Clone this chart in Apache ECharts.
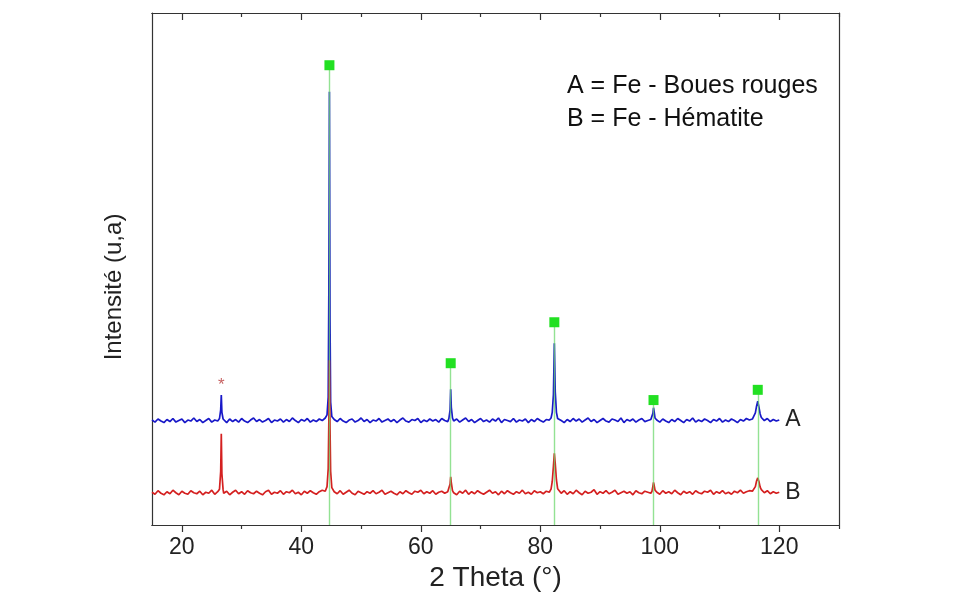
<!DOCTYPE html>
<html>
<head>
<meta charset="utf-8">
<script src="https://cdn.jsdelivr.net/npm/echarts@6/dist/echarts.min.js"></script>
<style>
html,body{margin:0;padding:0;background:#fff;}
#chart{width:959px;height:614px;}
</style>
</head>
<body>
<div id="chart"></div>
<script>
// 2-theta sampling positions (degrees)
const theta = [
  15,15.5,16,16.5,17,17.5,18,18.5,19,19.5,20,20.5,21,21.5,22,22.5,23,23.5,24,24.5,25,25.5,26,
  26.3,26.5,26.6,26.7,26.9,
  27,27.5,28,28.5,29,29.5,30,30.5,31,31.5,32,32.5,33,33.5,34,34.5,35,35.5,36,36.5,37,37.5,38,38.5,39,39.5,40,40.5,41,41.5,42,42.5,43,43.5,44,
  44.3,44.5,44.6,44.7,44.8,44.9,45.1,
  45.5,46,46.5,47,47.5,48,48.5,49,49.5,50,50.5,51,51.5,52,52.5,53,53.5,54,54.5,55,55.5,56,56.5,57,57.5,58,58.5,59,59.5,60,60.5,61,61.5,62,62.5,63,63.5,64,64.5,
  64.7,64.9,65.0,65.1,65.3,
  65.5,66,66.5,67,67.5,68,68.5,69,69.5,70,70.5,71,71.5,72,72.5,73,73.5,74,74.5,75,75.5,76,76.5,77,77.5,78,78.5,79,79.5,80,80.5,81,81.5,
  81.8,82.0,82.2,82.35,82.5,82.7,82.9,
  83.5,84,84.5,85,85.5,86,86.5,87,87.5,88,88.5,89,89.5,90,90.5,91,91.5,92,92.5,93,93.5,94,94.5,95,95.5,96,96.5,97,97.5,98,98.5,
  98.7,98.85,98.95,99.05,99.2,
  99.5,100,100.5,101,101.5,102,102.5,103,103.5,104,104.5,105,105.5,106,106.5,107,107.5,108,108.5,109,109.5,110,110.5,111,111.5,112,112.5,113,113.5,114,114.5,115,115.5,
  115.8,116.0,116.2,116.4,116.6,116.8,117.0,
  117.5,118,118.5,119,119.5,120
];

// A = Fe - Boues rouges (offset pattern, arbitrary units)
const intensityA = [
  20.5,20.1,20.7,20.3,20.0,20.6,20.2,20.8,20.1,20.4,20.7,20.0,20.5,20.3,20.9,20.2,20.6,20.0,20.4,20.8,20.1,20.5,20.3,
  20.8,22.5,25.4,22.0,20.7,
  20.4,20.0,20.7,20.2,20.6,20.1,20.8,20.3,20.0,20.5,20.9,20.2,20.6,20.1,20.4,20.8,20.0,20.5,20.3,20.7,20.1,20.6,20.2,20.9,20.4,20.0,20.6,20.3,20.8,20.1,20.5,20.2,20.7,20.4,20.9,
  21.5,25.0,45.0,84.6,40.0,24.0,21.2,
  20.6,20.2,20.8,20.3,20.0,20.5,20.7,20.1,20.4,20.9,20.2,20.6,20.0,20.5,20.3,20.8,20.1,20.4,20.7,20.2,20.6,20.0,20.5,20.9,20.3,20.1,20.6,20.4,20.8,20.0,20.5,20.2,20.7,20.3,20.6,20.1,20.8,20.4,20.2,
  20.8,22.5,26.5,23.0,20.9,
  20.3,20.7,20.1,20.5,20.9,20.2,20.6,20.0,20.4,20.8,20.2,20.5,20.1,20.7,20.3,20.9,20.0,20.6,20.4,20.2,20.8,20.1,20.5,20.3,20.7,20.0,20.6,20.2,20.8,20.4,20.1,20.6,20.5,
  20.9,22.0,25.5,35.5,26.0,22.0,20.8,
  20.4,20.0,20.6,20.2,20.8,20.3,20.7,20.1,20.5,20.9,20.2,20.6,20.0,20.4,20.8,20.3,20.1,20.7,20.5,20.2,20.9,20.0,20.6,20.3,20.7,20.1,20.5,20.8,20.2,20.4,20.6,
  20.8,21.8,22.9,22.2,20.9,
  20.5,20.1,20.7,20.3,20.0,20.6,20.2,20.8,20.4,20.0,20.6,20.3,20.9,20.1,20.5,20.2,20.7,20.4,20.0,20.6,20.3,20.8,20.1,20.5,20.2,20.7,20.4,20.0,20.6,20.3,20.8,20.5,20.7,
  21.0,21.9,23.2,24.2,23.0,21.7,21.0,
  20.4,20.8,20.2,20.6,20.3,20.5
];

// B = Fe - Hématite
const intensityB = [
  6.4,6.0,6.7,6.2,5.9,6.5,6.1,6.8,6.3,5.9,6.6,6.2,6.0,6.7,6.3,6.1,6.6,5.9,6.4,6.2,6.8,6.0,6.5,
  7.0,10.5,17.8,10.0,6.9,
  6.2,6.6,5.9,6.4,6.8,6.1,6.5,6.0,6.7,6.3,6.1,6.6,6.2,5.9,6.5,6.8,6.0,6.4,6.2,6.7,6.0,6.5,6.3,6.8,6.1,6.4,5.9,6.6,6.2,6.7,6.3,6.0,6.5,6.8,6.6,
  7.5,11.0,20.0,32.2,19.0,10.5,7.3,
  6.5,6.1,6.7,6.0,6.4,6.8,6.2,5.9,6.6,6.3,6.0,6.5,6.2,6.7,6.1,6.4,6.8,6.0,6.3,6.6,6.2,5.9,6.5,6.1,6.7,6.3,6.0,6.6,6.4,6.8,6.1,6.5,6.2,6.7,6.0,6.4,6.6,6.2,6.5,
  6.6,8.0,9.4,8.3,6.7,
  6.3,5.9,6.6,6.2,6.8,6.0,6.5,6.1,6.7,6.3,6.0,6.4,6.8,6.2,6.5,5.9,6.6,6.1,6.7,6.3,6.0,6.5,6.2,6.8,6.1,6.4,6.0,6.7,6.3,6.5,6.1,6.6,6.4,
  7.0,8.5,11.5,14.0,12.0,8.8,7.1,
  6.2,6.7,6.0,6.5,6.1,6.8,6.3,5.9,6.6,6.2,6.4,6.9,6.0,6.5,6.2,6.7,6.1,6.4,6.8,6.0,6.3,6.6,6.2,6.5,5.9,6.7,6.3,6.1,6.6,6.4,6.2,
  6.6,7.6,8.3,7.8,6.8,
  6.4,6.0,6.7,6.2,6.5,6.1,6.8,6.3,5.9,6.6,6.2,6.5,6.0,6.7,6.3,6.1,6.6,6.4,6.8,6.0,6.5,6.2,6.7,6.1,6.4,6.0,6.6,6.3,6.8,6.2,6.5,6.7,6.6,
  6.9,7.5,8.6,9.2,8.5,7.4,6.9,
  6.3,6.7,6.1,6.5,6.2,6.4
];

// Fe reference reflections (green markers) and marker heights
const fePeaks = [44.7, 65.0, 82.35, 98.95, 116.4];
const feMarkerHeights = [89.8, 31.6, 39.6, 24.4, 26.4];

// impurity peak (*)
const starPeak = [[26.6, 27.2]];

// axis ticks
const majorTicks = [20, 40, 60, 80, 100, 120];
const minorTicks = [30, 50, 70, 90, 110, 130];

const FONT = "'Liberation Sans', Arial, sans-serif";
const chart = echarts.init(document.getElementById('chart'), null, {renderer: 'canvas'});

const axisLineStyle = {color: '#333', width: 1.2};

function xAx(pos, ticks, len, inside, labels, extra) {
  return Object.assign({
    type: 'value', min: 15, max: 130, position: pos, offset: 0,
    axisLine: {show: true, onZero: false, lineStyle: axisLineStyle},
    axisTick: {show: true, inside: inside, length: len, customValues: ticks, lineStyle: {color: '#333', width: 1.2}},
    axisLabel: labels ? {show: true, customValues: majorTicks, fontSize: 23, color: '#222', fontFamily: FONT, margin: 11} : {show: false},
    splitLine: {show: false}
  }, extra || {});
}

const option = {
  backgroundColor: '#ffffff',
  animation: false,
  grid: {left: 152, right: 120, top: 13, bottom: 89, containLabel: false},
  xAxis: [
    xAx('bottom', majorTicks, 7, false, true, {
      name: '2 Theta (°)', nameLocation: 'middle', nameGap: 37,
      nameTextStyle: {fontSize: 28, color: '#222', fontFamily: FONT}
    }),
    xAx('bottom', minorTicks, 4, false, false),
    xAx('top', majorTicks, 7, true, false),
    xAx('top', minorTicks, 4, true, false)
  ],
  yAxis: [
    {
      type: 'value', min: 0, max: 100, position: 'left',
      axisLine: {show: true, onZero: false, lineStyle: axisLineStyle},
      axisTick: {show: false}, axisLabel: {show: false}, splitLine: {show: false},
      name: 'Intensité (u,a)', nameLocation: 'middle', nameGap: 26,
      nameTextStyle: {fontSize: 24, color: '#222', fontFamily: FONT, padding: [0, 36, 0, 0]}
    },
    {
      type: 'value', min: 0, max: 100, position: 'right',
      axisLine: {show: true, onZero: false, lineStyle: axisLineStyle},
      axisTick: {show: false}, axisLabel: {show: false}, splitLine: {show: false}
    }
  ],
  series: [
    {
      name: 'A', type: 'line', xAxisIndex: 0, yAxisIndex: 0,
      data: theta.map((t, i) => [t, intensityA[i]]),
      showSymbol: false, symbol: 'none', z: 2,
      lineStyle: {color: '#1818c8', width: 1.7},
      endLabel: {show: true, formatter: 'A', fontSize: 23, color: '#222', fontFamily: FONT, distance: 6}
    },
    {
      name: 'B', type: 'line', xAxisIndex: 0, yAxisIndex: 0,
      data: theta.map((t, i) => [t, intensityB[i]]),
      showSymbol: false, symbol: 'none', z: 2,
      lineStyle: {color: '#d42020', width: 1.7},
      endLabel: {show: true, formatter: 'B', fontSize: 23, color: '#222', fontFamily: FONT, distance: 6}
    },
    {
      name: 'Fe', type: 'scatter', xAxisIndex: 0, yAxisIndex: 0, z: 5,
      data: fePeaks.map((t, i) => [t, feMarkerHeights[i]]),
      symbol: 'rect', symbolSize: 10,
      itemStyle: {color: '#22e022', opacity: 1},
      markLine: {
        silent: true, symbol: ['none', 'none'], animation: false,
        label: {show: false},
        lineStyle: {color: '#6fd86f', width: 1.4, type: 'solid', opacity: 0.75},
        data: fePeaks.map((t, i) => [{coord: [t, 0]}, {coord: [t, feMarkerHeights[i]]}])
      }
    },
    {
      name: 'star', type: 'scatter', xAxisIndex: 0, yAxisIndex: 0, z: 5,
      data: starPeak, symbol: 'circle', symbolSize: 2, itemStyle: {color: 'rgba(0,0,0,0)'},
      label: {show: true, formatter: '*', position: 'inside', color: '#b83a3a', fontSize: 17, fontFamily: FONT}
    }
  ],
  graphic: [
    {type: 'text', left: 567, top: 74, style: {text: 'A = Fe - Boues rouges', fill: '#111', font: "25px 'Liberation Sans', Arial, sans-serif"}},
    {type: 'text', left: 567, top: 107, style: {text: 'B = Fe - Hématite', fill: '#111', font: "25px 'Liberation Sans', Arial, sans-serif"}}
  ]
};
chart.setOption(option);
</script>
</body>
</html>
